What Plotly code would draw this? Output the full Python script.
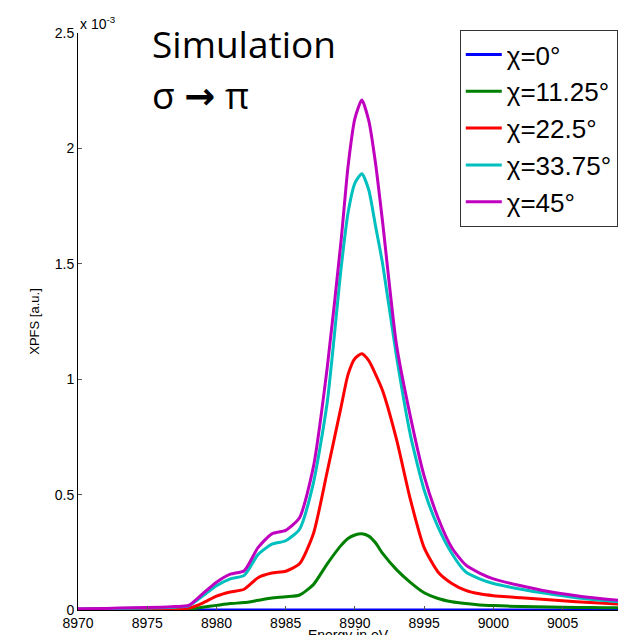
import plotly.graph_objects as go

# Energy grid (eV)
energy = [8970, 8972, 8974, 8976, 8977, 8978, 8979, 8980, 8981, 8982, 8983, 8984, 8985, 8986,
          8987, 8988, 8989, 8989.5, 8990, 8990.5, 8991, 8991.5, 8992, 8993, 8994, 8995, 8996,
          8997, 8998, 8999, 9000, 9002, 9004, 9006, 9008, 9009]

# XPFS values in units of 1e-3
chi_0 = [0.0] * len(energy)
chi_11_25 = [0.001, 0.001, 0.0015, 0.002, 0.003, 0.004, 0.012, 0.02, 0.028, 0.032, 0.042, 0.052, 0.057, 0.065,
             0.11, 0.20, 0.28, 0.31, 0.325, 0.33, 0.32, 0.29, 0.245, 0.175, 0.12, 0.075, 0.05,
             0.036, 0.028, 0.022, 0.019, 0.015, 0.013, 0.011, 0.01, 0.01]
chi_22_5 = [0.002, 0.002, 0.003, 0.004, 0.005, 0.008, 0.03, 0.06, 0.078, 0.09, 0.14, 0.16, 0.168, 0.20,
            0.33, 0.60, 0.88, 1.02, 1.09, 1.11, 1.08, 1.02, 0.95, 0.74, 0.48, 0.27, 0.165,
            0.115, 0.085, 0.07, 0.062, 0.053, 0.044, 0.036, 0.029, 0.026]
chi_33_75 = [0.004, 0.006, 0.008, 0.01, 0.012, 0.018, 0.06, 0.105, 0.135, 0.15, 0.24, 0.285, 0.30, 0.35,
             0.55, 0.90, 1.48, 1.72, 1.85, 1.89, 1.82, 1.66, 1.50, 1.10, 0.76, 0.52, 0.36,
             0.245, 0.165, 0.135, 0.115, 0.09, 0.07, 0.053, 0.041, 0.036]
chi_45 = [0.005, 0.007, 0.01, 0.012, 0.015, 0.02, 0.07, 0.12, 0.155, 0.17, 0.27, 0.33, 0.345, 0.40,
          0.62, 1.05, 1.60, 1.92, 2.13, 2.21, 2.12, 1.93, 1.68, 1.15, 0.84, 0.58, 0.40,
          0.27, 0.195, 0.16, 0.135, 0.105, 0.08, 0.062, 0.048, 0.042]

series = [
    ("χ=0°", chi_0, "#0000FF"),
    ("χ=11.25°", chi_11_25, "#008000"),
    ("χ=22.5°", chi_22_5, "#FF0000"),
    ("χ=33.75°", chi_33_75, "#00BFBF"),
    ("χ=45°", chi_45, "#BF00BF"),
]

x_ticks = [8970, 8975, 8980, 8985, 8990, 8995, 9000, 9005]
y_ticks = [0, 0.5, 1, 1.5, 2, 2.5]
y_tick_text = ["0", "0.5", "1", "1.5", "2", "2.5"]

fig = go.Figure()
for name, vals, color in series:
    fig.add_trace(go.Scatter(x=energy, y=vals, mode="lines", name=name, legendgroup=name,
                             line=dict(color=color, width=3, shape="spline", smoothing=0.6)))

ff = "Liberation Sans, Arial, sans-serif"
axis_font = dict(family=ff, size=14, color="#000")

fig.update_layout(
    width=630, height=635,
    margin=dict(l=70, r=20, t=25, b=33, autoexpand=False),
    paper_bgcolor="white", plot_bgcolor="white",
    showlegend=True,
    legend=dict(x=0.707, y=1.005, xanchor="left", yanchor="top",
                bgcolor="white", bordercolor="#333", borderwidth=1,
                font=dict(family=ff, size=26, color="#000"),
                tracegroupgap=0, itemwidth=36),
    xaxis=dict(range=[8970, 9009], tickvals=x_ticks, ticks="inside", ticklen=4, tickcolor="#555",
               showline=True, linecolor="#000", linewidth=1, showgrid=False, zeroline=False,
               tickfont=axis_font, automargin=False,
               title=dict(text="Energy in eV", font=axis_font, standoff=1)),
    yaxis=dict(range=[0, 2.5], tickvals=y_ticks, ticktext=y_tick_text, ticks="inside", ticklen=4,
               tickcolor="#555", showline=True, linecolor="#000", linewidth=1, showgrid=False,
               zeroline=False, tickfont=axis_font, automargin=False,
               title=dict(text="XPFS [a.u.]", font=dict(family=ff, size=13, color="#000"), standoff=12)),
)

fig.add_annotation(x=0.0, y=1.018, xref="paper", yref="paper", xanchor="left", yanchor="middle",
                   text="x 10<sup>-3</sup>", showarrow=False, font=dict(family=ff, size=14, color="#000"))
fig.add_annotation(x=0.134, y=0.981, xref="paper", yref="paper", xanchor="left", yanchor="middle",
                   text="Simulation", showarrow=False,
                   font=dict(family="Open Sans, sans-serif", size=37, color="#000"))
fig.add_annotation(x=0.134, y=0.894, xref="paper", yref="paper", xanchor="left", yanchor="middle",
                   text="σ <span style=\"font-family:'DejaVu Sans';font-weight:bold\">→</span> π",
                   showarrow=False,
                   font=dict(family="Open Sans, sans-serif", size=37, color="#000"))

fig.write_html("out.html")
